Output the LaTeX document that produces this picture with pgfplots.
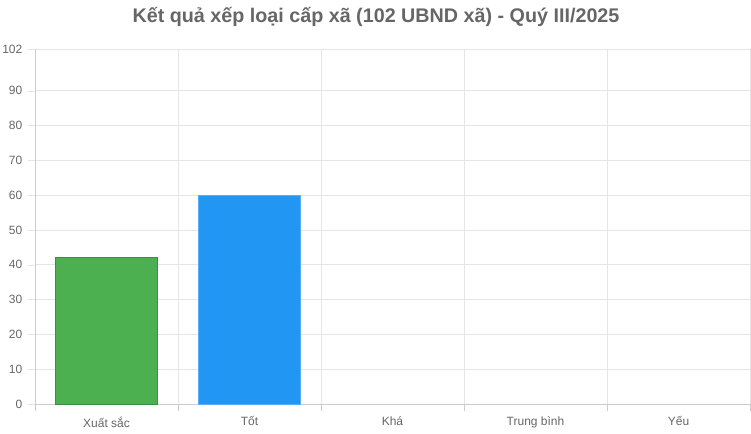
\documentclass[border=0pt]{standalone}
\usepackage{fontspec}
\setmainfont{Liberation Sans}
\usepackage{pgfplots}
\pgfplotsset{compat=1.18}
\definecolor{txt}{HTML}{666666}
\definecolor{gridc}{HTML}{E5E5E5}
\definecolor{axc}{HTML}{CCCCCC}
\definecolor{cgreen}{HTML}{4CAF50}
\definecolor{cgreenb}{HTML}{3E8E41}
\definecolor{cblue}{HTML}{2196F3}
\definecolor{cblueb}{HTML}{5AAEF5}
\begin{document}
\begin{tikzpicture}
\useasboundingbox (0pt,0pt) rectangle (563.25pt,324.75pt);
\node[text=txt,font=\fontsize{14.8pt}{17pt}\selectfont\bfseries] at (282pt,312pt) {Kết quả xếp loại cấp xã (102 UBND xã) - Quý III/2025};
\begin{axis}[
  at={(26.25pt,21.75pt)}, anchor=south west,
  scale only axis,
  width=536.25pt, height=266.25pt,
  xmin=-0.5, xmax=4.5, ymin=0, ymax=102,
  ybar, bar width=77pt, bar shift=0pt,
  xtick={0,1,2,3,4},
  xticklabels={Xuất sắc,Tốt,Khá,Trung bình,Yếu},
  minor xtick={-0.5,0.5,1.5,2.5,3.5,4.5},
  ytick={0,10,20,30,40,50,60,70,80,90,102},
  major x tick style={draw=none},
  minor x tick style={draw=axc},
  y tick style={draw=gridc},
  tick align=outside,
  major tick length=5pt,
  minor tick length=5pt,
  ymajorgrids, xminorgrids,
  grid style={draw=gridc, line width=0.6pt},
  minor grid style={draw=gridc, line width=0.6pt},
  axis x line*=bottom, axis y line*=left,
  axis line style={draw=axc, line width=0.6pt},
  x axis line style={-}, y axis line style={-},
  tick label style={text=txt, font=\fontsize{9pt}{11pt}\selectfont},
  /pgf/number format/assume math mode=true,
  xticklabel style={yshift=-1pt},
  yticklabel style={xshift=-1pt},
  clip=false,
]
% Xuất sắc, Tốt; Khá, Trung bình, Yếu are 0
\addplot[fill=cgreen, draw=cgreenb, line width=0.6pt] coordinates {(0,42)};
\addplot[fill=cblue, draw=cblueb, line width=0.6pt] coordinates {(1,60)};
\end{axis}
\end{tikzpicture}
\end{document}
